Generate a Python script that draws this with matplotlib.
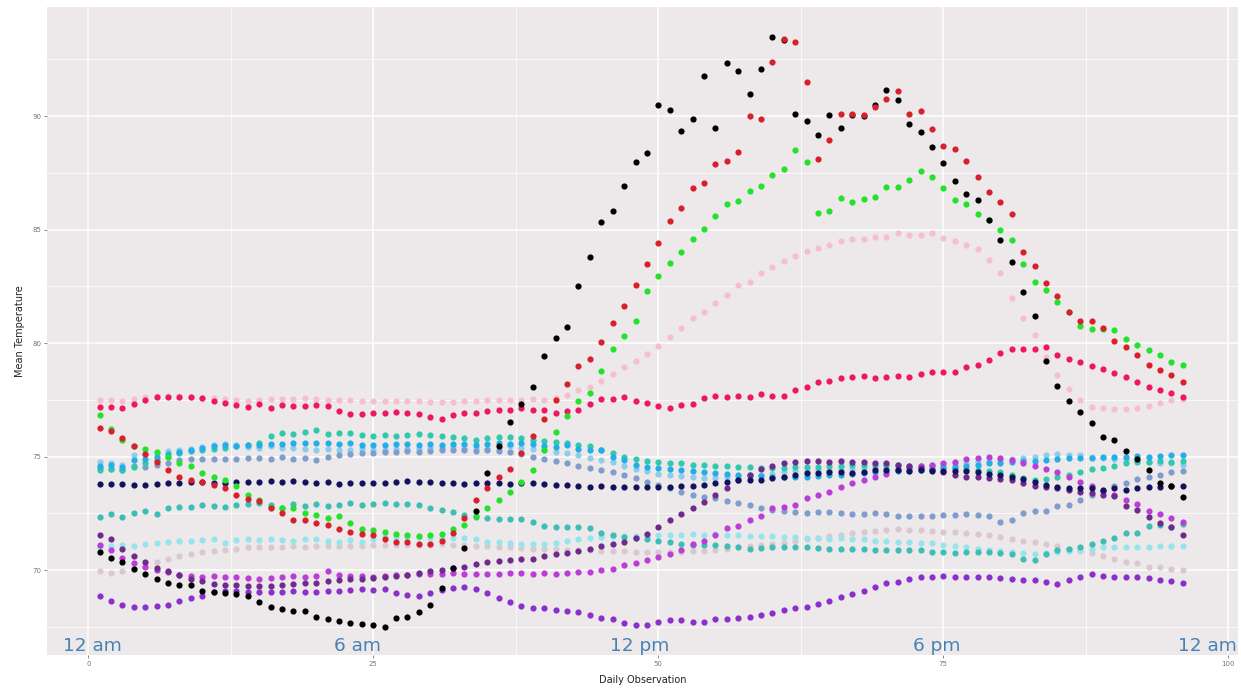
import matplotlib
matplotlib.use("Agg")
import matplotlib.pyplot as plt
from matplotlib.ticker import MultipleLocator

# 15-minute observations through one day
observation = list(range(1, 97))

black_day = [
    70.78, 70.52, 70.35, 70.05, 69.85, 69.62, 69.45, 69.35, 69.33, 69.10, 69.02, 68.98,
    68.95, 68.85, 68.60, 68.38, 68.28, 68.22, 68.18, 67.92, 67.85, 67.76, 67.66, 67.63,
    67.60, 67.50, 67.87, 67.95, 68.14, 68.48, 69.20, 70.10, 70.97, 72.60, 74.29, 75.45,
    76.53, 77.33, 78.05, 79.43, 80.23, 80.69, 82.53, 83.77, 85.32, 85.83, 86.93, 87.96,
    88.36, 90.48, 90.26, 89.35, 89.87, 91.76, 89.47, 92.32, 91.98, 90.97, 92.07, 93.50,
    93.35, 90.07, 89.78, 89.16, 90.04, 89.46, 90.05, 90.00, 90.48, 91.17, 90.70, 89.63,
    89.31, 88.65, 87.95, 87.15, 86.56, 86.30, 85.42, 84.54, 83.55, 82.23, 81.19, 79.22,
    78.13, 77.45, 76.98, 76.47, 75.88, 75.75, 75.26, 74.90, 74.41, 73.85, 73.72, 73.20,
]
red_day = [
    76.24, 76.14, 75.80, 75.45, 75.10, 74.75, 74.40, 74.10, 73.95, 73.90, 73.75, 73.60,
    73.30, 73.12, 73.05, 72.72, 72.50, 72.20, 72.20, 72.06, 71.98, 71.80, 71.69, 71.60,
    71.54, 71.35, 71.25, 71.22, 71.17, 71.15, 71.30, 71.65, 72.30, 73.08, 73.60, 74.10,
    74.45, 75.15, 75.90, 76.65, 77.50, 78.20, 79.00, 79.30, 80.05, 80.90, 81.64, 82.56,
    83.48, 84.39, 85.37, 85.93, 86.84, 87.03, 87.91, 88.02, 88.40, 90.00, 89.85, 92.36,
    93.38, 93.27, 91.51, 88.13, 88.94, 90.09, 90.09, 90.05, 90.42, 90.73, 91.12, 90.09,
    90.23, 89.41, 88.69, 88.57, 88.03, 87.30, 86.64, 86.20, 85.67, 84.00, 83.39, 82.66,
    82.07, 81.35, 80.97, 80.97, 80.65, 80.09, 79.84, 79.47, 79.03, 78.81, 78.59, 78.30,
]
green_day = [
    76.83, 76.20, 75.73, 75.45, 75.32, 75.20, 75.00, 74.70, 74.60, 74.26, 74.11, 73.95,
    73.70, 73.30, 73.08, 72.80, 72.72, 72.72, 72.50, 72.42, 72.30, 72.40, 72.06, 71.80,
    71.76, 71.69, 71.60, 71.55, 71.50, 71.55, 71.60, 71.80, 71.98, 72.40, 72.72, 73.10,
    73.45, 73.90, 74.40, 75.30, 76.10, 76.80, 77.45, 77.81, 78.78, 79.75, 80.32, 80.98,
    82.29, 82.97, 83.51, 84.00, 84.58, 85.01, 85.59, 86.12, 86.27, 86.70, 86.92, 87.40,
    87.69, 88.50, 87.96, 85.71, 85.83, 86.37, 86.22, 86.33, 86.42, 86.86, 86.86, 87.20,
    87.59, 87.30, 86.81, 86.30, 86.12, 85.68, 85.42, 84.98, 84.54, 83.48, 82.70, 82.36,
    81.82, 81.35, 80.75, 80.60, 80.62, 80.57, 80.20, 79.91, 79.69, 79.47, 79.18, 79.03,
]
pink_day = [
    77.49, 77.50, 77.45, 77.55, 77.62, 77.66, 77.68, 77.66, 77.62, 77.60, 77.58, 77.55,
    77.50, 77.47, 77.50, 77.55, 77.52, 77.55, 77.58, 77.55, 77.50, 77.50, 77.48, 77.46,
    77.44, 77.45, 77.46, 77.45, 77.45, 77.42, 77.40, 77.42, 77.45, 77.46, 77.48, 77.50,
    77.48, 77.50, 77.52, 77.50, 77.56, 77.70, 77.93, 78.08, 78.34, 78.66, 78.93, 79.22,
    79.52, 79.88, 80.28, 80.65, 81.09, 81.38, 81.75, 82.11, 82.55, 82.70, 83.10, 83.36,
    83.63, 83.83, 84.07, 84.17, 84.30, 84.50, 84.57, 84.57, 84.68, 84.68, 84.83, 84.76,
    84.76, 84.83, 84.65, 84.50, 84.32, 84.13, 83.66, 83.07, 81.97, 81.09, 80.35, 79.40,
    78.60, 77.96, 77.50, 77.20, 77.12, 77.10, 77.10, 77.15, 77.22, 77.35, 77.48, 77.55,
]
deeppink_day = [
    77.20, 77.20, 77.12, 77.31, 77.49, 77.61, 77.61, 77.61, 77.61, 77.56, 77.46, 77.37,
    77.27, 77.20, 77.31, 77.12, 77.27, 77.22, 77.22, 77.27, 77.22, 77.02, 76.87, 76.87,
    76.93, 76.93, 76.98, 76.90, 76.87, 76.75, 76.67, 76.82, 76.90, 76.94, 77.00, 77.07,
    77.07, 77.12, 77.07, 77.05, 76.90, 77.02, 77.07, 77.31, 77.52, 77.52, 77.61, 77.46,
    77.34, 77.22, 77.12, 77.27, 77.31, 77.56, 77.67, 77.64, 77.67, 77.61, 77.75, 77.67,
    77.67, 77.93, 78.08, 78.30, 78.34, 78.44, 78.52, 78.55, 78.44, 78.52, 78.55, 78.52,
    78.66, 78.74, 78.74, 78.74, 78.93, 79.03, 79.25, 79.57, 79.72, 79.76, 79.72, 79.84,
    79.47, 79.28, 79.18, 78.99, 78.88, 78.69, 78.52, 78.30, 78.08, 77.93, 77.78, 77.64,
]
navy_day = [
    73.79, 73.79, 73.79, 73.77, 73.74, 73.79, 73.82, 73.85, 73.89, 73.89, 73.85, 73.82,
    73.88, 73.89, 73.86, 73.92, 73.89, 73.92, 73.89, 73.85, 73.86, 73.79, 73.82, 73.85,
    73.82, 73.85, 73.89, 73.92, 73.89, 73.86, 73.85, 73.82, 73.79, 73.82, 73.82, 73.82,
    73.79, 73.82, 73.85, 73.79, 73.74, 73.74, 73.70, 73.67, 73.70, 73.67, 73.64, 73.67,
    73.64, 73.64, 73.64, 73.70, 73.70, 73.74, 73.85, 73.89, 73.96, 73.99, 73.99, 74.04,
    74.11, 74.18, 74.29, 74.29, 74.33, 74.33, 74.29, 74.33, 74.40, 74.40, 74.40, 74.38,
    74.40, 74.38, 74.38, 74.38, 74.35, 74.30, 74.25, 74.20, 74.10, 74.00, 73.90, 73.75,
    73.67, 73.60, 73.60, 73.62, 73.55, 73.60, 73.55, 73.62, 73.67, 73.67, 73.72, 73.70,
]
deepskyblue_day = [
    74.60, 74.65, 74.55, 74.85, 74.90, 75.00, 75.10, 75.20, 75.30, 75.40, 75.45, 75.50,
    75.45, 75.50, 75.50, 75.55, 75.55, 75.58, 75.60, 75.58, 75.60, 75.55, 75.58, 75.50,
    75.52, 75.50, 75.55, 75.55, 75.50, 75.55, 75.52, 75.55, 75.55, 75.52, 75.55, 75.60,
    75.55, 75.60, 75.57, 75.45, 75.42, 75.50, 75.35, 75.27, 75.27, 74.98, 74.85, 74.62,
    74.55, 74.48, 74.45, 74.40, 74.35, 74.30, 74.28, 74.22, 74.20, 74.18, 74.15, 74.12,
    74.10, 74.10, 74.12, 74.15, 74.18, 74.20, 74.25, 74.28, 74.30, 74.32, 74.35, 74.38,
    74.40, 74.45, 74.50, 74.55, 74.60, 74.65, 74.70, 74.72, 74.75, 74.80, 74.82, 74.85,
    74.90, 74.92, 74.95, 74.95, 74.98, 75.00, 75.00, 75.02, 75.00, 75.02, 75.05, 75.05,
]
turquoise_day = [
    74.40, 74.45, 74.40, 74.55, 74.70, 74.85, 75.00, 75.15, 75.25, 75.30, 75.35, 75.40,
    75.45, 75.50, 75.60, 75.90, 76.02, 75.98, 76.10, 76.15, 76.00, 76.02, 76.05, 75.95,
    75.92, 75.95, 75.92, 75.95, 76.00, 75.96, 75.90, 75.85, 75.80, 75.75, 75.80, 75.85,
    75.85, 75.80, 75.75, 75.70, 75.65, 75.60, 75.50, 75.45, 75.30, 75.15, 75.00, 74.90,
    74.80, 74.75, 74.72, 74.70, 74.65, 74.62, 74.60, 74.58, 74.55, 74.52, 74.50, 74.50,
    74.50, 74.52, 74.55, 74.55, 74.58, 74.60, 74.62, 74.62, 74.65, 74.65, 74.62, 74.60,
    74.60, 74.58, 74.55, 74.50, 74.45, 74.40, 74.35, 74.30, 74.20, 74.05, 73.95, 74.00,
    74.10, 74.20, 74.30, 74.45, 74.50, 74.60, 74.70, 74.75, 74.75, 74.80, 74.75, 74.80,
]
skyblue_day = [
    74.78, 74.72, 74.62, 75.05, 75.10, 75.15, 75.25, 75.30, 75.35, 75.42, 75.50, 75.55,
    75.50, 75.42, 75.40, 75.45, 75.40, 75.38, 75.35, 75.30, 75.32, 75.28, 75.30, 75.35,
    75.30, 75.30, 75.32, 75.35, 75.35, 75.40, 75.38, 75.42, 75.40, 75.38, 75.35, 75.40,
    75.45, 75.40, 75.35, 75.30, 75.20, 75.15, 75.05, 74.95, 74.85, 74.75, 74.60, 74.45,
    74.35, 74.25, 74.20, 74.15, 74.10, 74.05, 74.05, 74.08, 74.12, 74.15, 74.20, 74.25,
    74.30, 74.35, 74.35, 74.40, 74.42, 74.45, 74.45, 74.50, 74.52, 74.55, 74.55, 74.58,
    74.60, 74.62, 74.65, 74.68, 74.70, 74.75, 74.80, 74.85, 74.90, 74.95, 75.00, 75.05,
    75.10, 75.08, 75.05, 75.00, 74.95, 74.90, 74.85, 74.80, 74.75, 74.70, 74.70, 74.65,
]
cornflower_day = [
    74.50, 74.45, 74.40, 74.60, 74.55, 74.65, 74.70, 74.85, 74.88, 74.90, 74.90, 74.88,
    74.90, 74.92, 74.95, 74.90, 75.00, 74.88, 74.95, 74.85, 75.00, 75.05, 75.10, 75.15,
    75.15, 75.20, 75.20, 75.25, 75.22, 75.25, 75.30, 75.28, 75.30, 75.25, 75.30, 75.25,
    75.20, 75.10, 75.00, 74.90, 74.80, 74.70, 74.60, 74.50, 74.40, 74.30, 74.20, 74.05,
    73.90, 73.75, 73.60, 73.45, 73.30, 73.20, 73.16, 73.05, 72.95, 72.85, 72.75, 72.65,
    72.60, 72.55, 72.50, 72.55, 72.55, 72.50, 72.45, 72.45, 72.50, 72.45, 72.40, 72.40,
    72.40, 72.40, 72.42, 72.42, 72.45, 72.42, 72.40, 72.13, 72.20, 72.50, 72.60, 72.60,
    72.82, 72.86, 73.10, 73.30, 73.50, 73.70, 73.85, 74.00, 74.10, 74.20, 74.30, 74.35,
]
aquamarine_day = [
    72.35, 72.45, 72.32, 72.53, 72.61, 72.45, 72.72, 72.76, 72.76, 72.86, 72.82, 72.76,
    72.86, 72.91, 72.94, 72.86, 72.72, 72.91, 72.82, 72.91, 72.82, 72.86, 72.94, 72.86,
    72.91, 72.94, 72.90, 72.90, 72.85, 72.72, 72.64, 72.57, 72.42, 72.35, 72.28, 72.23,
    72.25, 72.23, 72.13, 71.94, 71.91, 71.90, 71.88, 71.84, 71.62, 71.55, 71.47, 71.40,
    71.35, 71.30, 71.25, 71.17, 71.10, 71.12, 71.10, 71.06, 71.03, 70.95, 70.98, 71.00,
    71.00, 71.00, 71.00, 70.97, 70.95, 70.92, 70.95, 70.95, 70.88, 70.88, 70.88, 70.88,
    70.88, 70.81, 70.80, 70.75, 70.80, 70.81, 70.78, 70.75, 70.70, 70.51, 70.44, 70.73,
    70.88, 70.95, 71.03, 71.17, 71.29, 71.40, 71.62, 71.64, 71.94, 71.98, 71.91, 72.05,
]
lightcyan_day = [
    71.00, 71.05, 71.10, 71.05, 71.15, 71.20, 71.25, 71.30, 71.28, 71.32, 71.35, 71.20,
    71.32, 71.35, 71.32, 71.35, 71.32, 71.30, 71.35, 71.35, 71.30, 71.25, 71.32, 71.25,
    71.35, 71.45, 71.45, 71.47, 71.45, 71.42, 71.42, 71.40, 71.40, 71.36, 71.25, 71.25,
    71.20, 71.17, 71.15, 71.17, 71.20, 71.30, 71.35, 71.40, 71.45, 71.50, 71.50, 71.52,
    71.55, 71.55, 71.55, 71.55, 71.60, 71.55, 71.60, 71.55, 71.55, 71.50, 71.50, 71.48,
    71.45, 71.45, 71.40, 71.40, 71.38, 71.40, 71.35, 71.35, 71.30, 71.30, 71.25, 71.25,
    71.20, 71.20, 71.10, 71.05, 71.00, 70.95, 70.90, 70.85, 70.80, 70.75, 70.70, 70.75,
    70.80, 70.85, 70.90, 70.95, 71.00, 71.00, 71.00, 71.02, 71.00, 71.05, 71.05, 71.05,
]
gray_day = [
    69.97, 69.88, 69.95, 70.05, 70.20, 70.35, 70.50, 70.60, 70.70, 70.80, 70.85, 70.90,
    70.95, 71.00, 71.00, 71.02, 71.00, 71.05, 71.02, 71.05, 71.05, 71.08, 71.05, 71.08,
    71.10, 71.10, 71.12, 71.10, 71.10, 71.12, 71.15, 71.12, 71.10, 71.08, 71.05, 71.02,
    71.00, 70.98, 70.95, 70.95, 70.92, 70.90, 70.88, 70.88, 70.85, 70.85, 70.82, 70.80,
    70.80, 70.78, 70.80, 70.80, 70.82, 70.85, 70.90, 70.95, 71.00, 71.05, 71.10, 71.15,
    71.20, 71.28, 71.35, 71.42, 71.50, 71.55, 71.62, 71.68, 71.72, 71.75, 71.80, 71.78,
    71.76, 71.72, 71.70, 71.68, 71.62, 71.60, 71.55, 71.45, 71.35, 71.30, 71.25, 71.15,
    71.05, 70.95, 70.85, 70.75, 70.62, 70.50, 70.37, 70.30, 70.15, 70.12, 70.07, 70.00,
]
violet_day = [
    71.10, 70.88, 70.55, 70.30, 70.15, 70.00, 69.90, 69.80, 69.72, 69.70, 69.72, 69.70,
    69.68, 69.65, 69.62, 69.65, 69.68, 69.72, 69.70, 69.72, 69.95, 69.80, 69.75, 69.72,
    69.70, 69.75, 69.78, 69.80, 69.82, 69.85, 69.85, 69.88, 69.85, 69.82, 69.85, 69.85,
    69.88, 69.88, 69.85, 69.88, 69.85, 69.88, 69.90, 69.93, 70.00, 70.07, 70.22, 70.32,
    70.44, 70.59, 70.73, 70.90, 71.13, 71.30, 71.54, 71.84, 71.95, 72.20, 72.38, 72.72,
    72.80, 72.86, 73.16, 73.30, 73.45, 73.67, 73.82, 73.96, 74.11, 74.25, 74.40, 74.50,
    74.60, 74.65, 74.70, 74.75, 74.90, 74.95, 75.00, 74.95, 74.85, 74.70, 74.60, 74.45,
    74.30, 74.10, 73.90, 73.70, 73.50, 73.30, 73.10, 72.90, 72.60, 72.45, 72.30, 72.10,
]
darkviolet_day = [
    68.85, 68.65, 68.46, 68.38, 68.38, 68.41, 68.46, 68.63, 68.75, 68.88, 69.05, 69.10,
    69.08, 69.05, 69.05, 69.02, 69.05, 69.08, 69.05, 69.05, 69.08, 69.10, 69.12, 69.15,
    69.12, 69.15, 68.97, 68.90, 68.85, 68.97, 69.12, 69.19, 69.27, 69.15, 68.97, 68.75,
    68.60, 68.41, 68.34, 68.31, 68.24, 68.19, 68.16, 68.02, 67.91, 67.83, 67.65, 67.58,
    67.58, 67.72, 67.80, 67.80, 67.72, 67.72, 67.83, 67.83, 67.91, 67.94, 68.02, 68.12,
    68.24, 68.31, 68.38, 68.50, 68.65, 68.80, 68.94, 69.09, 69.27, 69.41, 69.49, 69.59,
    69.68, 69.71, 69.74, 69.71, 69.71, 69.68, 69.68, 69.63, 69.59, 69.56, 69.56, 69.49,
    69.38, 69.56, 69.71, 69.81, 69.74, 69.71, 69.71, 69.68, 69.63, 69.56, 69.52, 69.41,
]
purple_day = [
    71.54, 71.35, 70.95, 70.60, 70.35, 70.10, 69.95, 69.80, 69.60, 69.50, 69.40, 69.35,
    69.35, 69.30, 69.30, 69.32, 69.35, 69.38, 69.42, 69.45, 69.50, 69.55, 69.60, 69.62,
    69.65, 69.70, 69.75, 69.80, 69.88, 69.95, 70.00, 70.08, 70.15, 70.29, 70.35, 70.41,
    70.44, 70.47, 70.51, 70.62, 70.70, 70.76, 70.85, 70.95, 71.06, 71.15, 71.25, 71.40,
    71.59, 71.91, 72.20, 72.45, 72.72, 73.00, 73.30, 73.60, 73.96, 74.20, 74.45, 74.60,
    74.70, 74.77, 74.80, 74.80, 74.77, 74.80, 74.77, 74.75, 74.72, 74.70, 74.65, 74.60,
    74.50, 74.40, 74.30, 74.20, 74.12, 74.10, 74.05, 74.00, 73.95, 73.85, 73.70, 73.64,
    73.60, 73.52, 73.45, 73.38, 73.30, 73.25, 72.82, 72.64, 72.32, 72.06, 71.91, 71.54,
]

# Drawing order (first = underneath) and point colours
series = [
    (gray_day, "#D9C9CF"),
    (pink_day, "#F7BFCC"),
    (lightcyan_day, "#96E4EC"),
    (skyblue_day, "#8CCDEB"),
    (cornflower_day, "#7E9CCC"),
    (turquoise_day, "#2FC9AC"),
    (deepskyblue_day, "#22AEE6"),
    (aquamarine_day, "#3CBDB6"),
    (violet_day, "#BC3CD8"),
    (darkviolet_day, "#8B30CC"),
    (purple_day, "#6E2A8C"),
    (navy_day, "#12125E"),
    (deeppink_day, "#EE1862"),
    (green_day, "#22E22A"),
    (black_day, "#000000"),
    (red_day, "#D8202C"),
]

time_labels = ["12 am", "6 am", "12 pm", "6 pm", "12 am"]
time_label_x = [0.4, 23.6, 48.4, 74.4, 98.2]
time_label_y = 66.45

fig = plt.figure(figsize=(12.41, 6.91), dpi=100)
ax = fig.add_axes([0.0376, 0.0521, 0.9600, 0.9373])
ax.set_facecolor("#EDE9EA")
for s in ax.spines.values():
    s.set_visible(False)

for values, color in series:
    ax.scatter(observation, values, s=20, color=color, linewidths=0, zorder=3)

for label, xpos in zip(time_labels, time_label_x):
    ax.text(xpos, time_label_y, label, ha="center", va="baseline",
            fontsize=13.3, color="#4682B4", zorder=4)

ax.set_xlim(-3.65, 100.85)
ax.set_ylim(66.26, 94.79)
ax.xaxis.set_major_locator(MultipleLocator(25))
ax.xaxis.set_minor_locator(MultipleLocator(12.5))
ax.yaxis.set_major_locator(MultipleLocator(5))
ax.yaxis.set_minor_locator(MultipleLocator(2.5))
ax.grid(which="major", color="white", linewidth=1.1, zorder=0)
ax.grid(which="minor", color="white", linewidth=0.5, zorder=0)
ax.set_axisbelow(True)
ax.tick_params(which="major", length=2.5, width=0.6, color="#777777",
               labelsize=5, labelcolor="#777777", pad=1.5)
ax.tick_params(which="minor", length=0)

ax.set_xlabel("Daily Observation", fontsize=7, color="#222222")
ax.set_ylabel("Mean Temperature", fontsize=7, color="#222222")
ax.xaxis.set_label_coords(0.5, -0.031)
ax.yaxis.set_label_coords(-0.018, 0.5)

fig.savefig("out.png", dpi=100, facecolor="white")
